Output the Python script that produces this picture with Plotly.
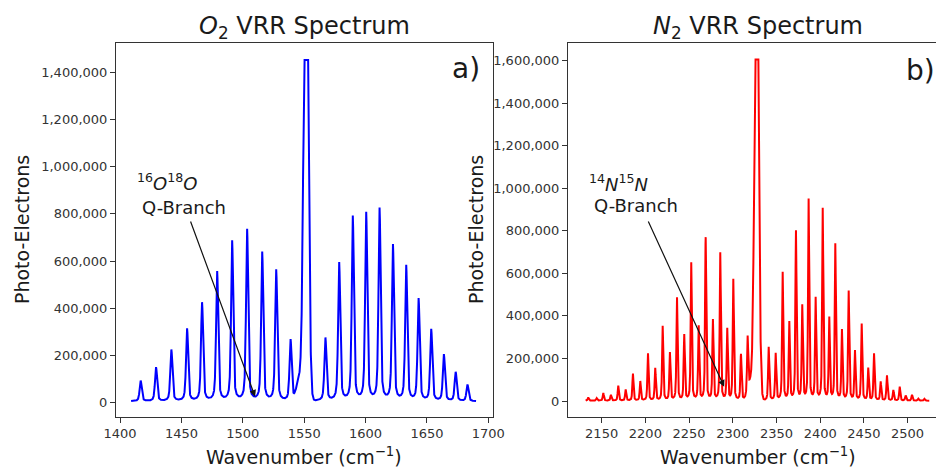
import numpy as np
import plotly.graph_objects as go

W, H = 936, 468

# ---------------- data ----------------
# O2 rotational lines (cm^-1) and peak heights (photo-electrons)
o2_pos = [1416.8, 1429.3, 1441.8, 1454.6, 1466.8, 1479.1, 1491.3, 1503.5, 1515.8,
          1527.2, 1538.9, 1567.3, 1578.5, 1589.6, 1600.5, 1611.4, 1622.3, 1633.1,
          1643.2, 1653.5, 1663.8, 1673.4, 1683.0]
o2_height = [87e3, 144e3, 218e3, 307e3, 417e3, 548e3, 678e3, 727e3, 630e3,
             556e3, 260e3, 267e3, 586e3, 781e3, 797e3, 815e3, 660e3, 573e3,
             433e3, 303e3, 197e3, 123e3, 70e3]
# O2 Q-branch (main band + low-wavenumber shoulder), detector saturation level
o2_q_pos = [1551.5, 1546.3]
o2_q_height = [2.34e6, 95e3]
o2_clip = 1453e3
o2_span = [1409.0, 1690.0]
o2_base = 4e3

# N2 rotational lines
n2_pos = [2134.7, 2144.3, 2151.9, 2160.6, 2169.0, 2177.5, 2185.8, 2194.2, 2203.0,
          2211.3, 2219.8, 2228.1, 2236.2, 2244.5, 2252.5, 2261.0, 2269.0, 2277.3,
          2285.7, 2293.7, 2300.6, 2309.4, 2317.0,
          2341.1, 2349.1, 2357.1, 2364.7, 2372.3, 2379.5, 2386.8, 2394.8, 2402.9,
          2410.4, 2417.3, 2424.9, 2432.6, 2439.8, 2447.5, 2455.0, 2461.6, 2469.2,
          2476.4, 2483.7, 2491.0, 2497.8, 2505.0, 2512.3, 2519.1]
n2_height = [16e3, 12e3, 36e3, 27e3, 71e3, 52e3, 127e3, 91e3, 221e3,
             151e3, 350e3, 224e3, 483e3, 307e3, 646e3, 347e3, 764e3, 376e3,
             692e3, 334e3, 569e3, 216e3, 263e3,
             251e3, 220e3, 601e3, 365e3, 794e3, 441e3, 943e3, 478e3, 900e3,
             384e3, 733e3, 329e3, 513e3, 232e3, 359e3, 151e3, 220e3, 88e3,
             118e3, 49e3, 66e3, 24e3, 28e3, 9e3, 9e3]
n2_q_pos = [2327.3, 2321.0]
n2_q_height = [2.43e6, 95e3]
n2_clip = 1605e3
n2_span = [2131.7, 2524.8]
n2_base = 1e3

o2_xticks = [1400, 1450, 1500, 1550, 1600, 1650, 1700]
o2_yticks = [0, 200000, 400000, 600000, 800000, 1000000, 1200000, 1400000]
n2_xticks = [2150, 2200, 2250, 2300, 2350, 2400, 2450, 2500]
n2_yticks = [0, 200000, 400000, 600000, 800000, 1000000, 1200000, 1400000, 1600000]


# ---------------- line shape (drawing only) ----------------
def spectrum(span, pos, hgt, qpos, qhgt, clip, base, hw, qsig):
    x = np.arange(span[0], span[1] + 1e-9, 0.04)
    y = np.full_like(x, base)
    for p, h in zip(pos, hgt):
        d = (x - p) / hw
        y += h * (0.5 / (1 + d * d) + 0.5 * np.exp(-np.log(2) * d * d))
    for i, (p, h) in enumerate(zip(qpos, qhgt)):
        s = qsig if i == 0 else qsig * 1.4
        y += h * np.exp(-0.5 * ((x - p) / s) ** 2)
    return x, np.minimum(y, clip)


x1, y1 = spectrum(o2_span, o2_pos, o2_height, o2_q_pos, o2_q_height, o2_clip, o2_base, 1.0, 1.75)
x2, y2 = spectrum(n2_span, n2_pos, n2_height, n2_q_pos, n2_q_height, n2_clip, n2_base, 0.78, 2.2)

fig = go.Figure()
fig.add_trace(go.Scatter(x=x1, y=y1, mode="lines", line=dict(color="#0000ff", width=2),
                         xaxis="x", yaxis="y", showlegend=False, hoverinfo="skip"))
fig.add_trace(go.Scatter(x=x2, y=y2, mode="lines", line=dict(color="#ff0000", width=2),
                         xaxis="x2", yaxis="y2", showlegend=False, hoverinfo="skip"))

FONT = "DejaVu Sans"
TXT = "#1a1a1a"
AX = "#333333"
ydom = [1 - 416.7 / H, 1 - 43 / H]

common_x = dict(ticks="outside", ticklen=5, tickwidth=1, tickcolor=AX, showline=True,
                linecolor=AX, linewidth=1, showgrid=False, zeroline=False, automargin=False,
                tickfont=dict(family=FONT, size=13, color=AX))
common_y = dict(common_x, tickformat=",d")

fig.update_layout(
    width=W, height=H, margin=dict(l=0, r=0, t=0, b=0, pad=0, autoexpand=False),
    paper_bgcolor="white", plot_bgcolor="white",
    xaxis=dict(common_x, domain=[116 / W, 492.5 / W], range=[1396.7, 1703.4],
               tickvals=o2_xticks, mirror=True, anchor="y"),
    yaxis=dict(common_y, domain=ydom, range=[-61100, 1525700],
               tickvals=o2_yticks, mirror=True, anchor="x"),
    xaxis2=dict(common_x, domain=[568 / W, 1.0], range=[2111.5, 2532.5],
                tickvals=n2_xticks, mirror=True, anchor="y2"),
    yaxis2=dict(common_y, domain=ydom, range=[-73800, 1683000],
                tickvals=n2_yticks, mirror=False, anchor="x2"),
)


def px(xp):
    return xp / W


def py(yp):
    return 1 - yp / H


ann = []
# titles
ann.append(dict(text="<i>O</i><sub>2</sub> VRR Spectrum", x=px(304), y=py(27),
                font=dict(family=FONT, size=24, color=TXT)))
ann.append(dict(text="<i>N</i><sub>2</sub> VRR Spectrum", x=px(757.5), y=py(27),
                font=dict(family=FONT, size=24, color=TXT)))
# axis titles
for xc in (304, 757.5):
    ann.append(dict(text="Wavenumber (cm<sup>−1</sup>)", x=px(xc), y=py(456),
                    font=dict(family=FONT, size=19, color=TXT)))
for xc in (22, 476):
    ann.append(dict(text="Photo-Electrons", x=px(xc), y=py(230), textangle=-90,
                    font=dict(family=FONT, size=19, color=TXT)))
# panel letters
ann.append(dict(text="a)", x=px(466), y=py(68), font=dict(family=FONT, size=28, color=TXT)))
ann.append(dict(text="b)", x=px(920), y=py(70), font=dict(family=FONT, size=28, color=TXT)))
# isotopologue labels
ann.append(dict(text="<sup>16</sup><i>O</i><sup>18</sup><i>O</i>", x=px(135), y=py(182),
                xanchor="left", font=dict(family=FONT, size=18, color=TXT)))
ann.append(dict(text="Q-Branch", x=px(140), y=py(207), xanchor="left",
                font=dict(family=FONT, size=18, color=TXT)))
ann.append(dict(text="<sup>14</sup><i>N</i><sup>15</sup><i>N</i>", x=px(587), y=py(183),
                xanchor="left", font=dict(family=FONT, size=18, color=TXT)))
ann.append(dict(text="Q-Branch", x=px(592), y=py(205), xanchor="left",
                font=dict(family=FONT, size=18, color=TXT)))
for a in ann:
    a.setdefault("xref", "paper")
    a.setdefault("yref", "paper")
    a.setdefault("showarrow", False)
    a.setdefault("xanchor", "center")
    a.setdefault("yanchor", "middle")

# arrows (data coordinates)
ann.append(dict(x=1510, y=24000, ax=1457, ay=774000, xref="x", yref="y", axref="x", ayref="y",
                text="", showarrow=True, arrowhead=2, arrowsize=1.1, arrowwidth=1.2,
                arrowcolor="#111"))
ann.append(dict(x=2290.2, y=67000, ax=2202.6, ay=851000, xref="x2", yref="y2", axref="x2",
                ayref="y2", text="", showarrow=True, arrowhead=2, arrowsize=1.1,
                arrowwidth=1.2, arrowcolor="#111"))

fig.update_layout(annotations=ann)
fig.write_html("out.html")
